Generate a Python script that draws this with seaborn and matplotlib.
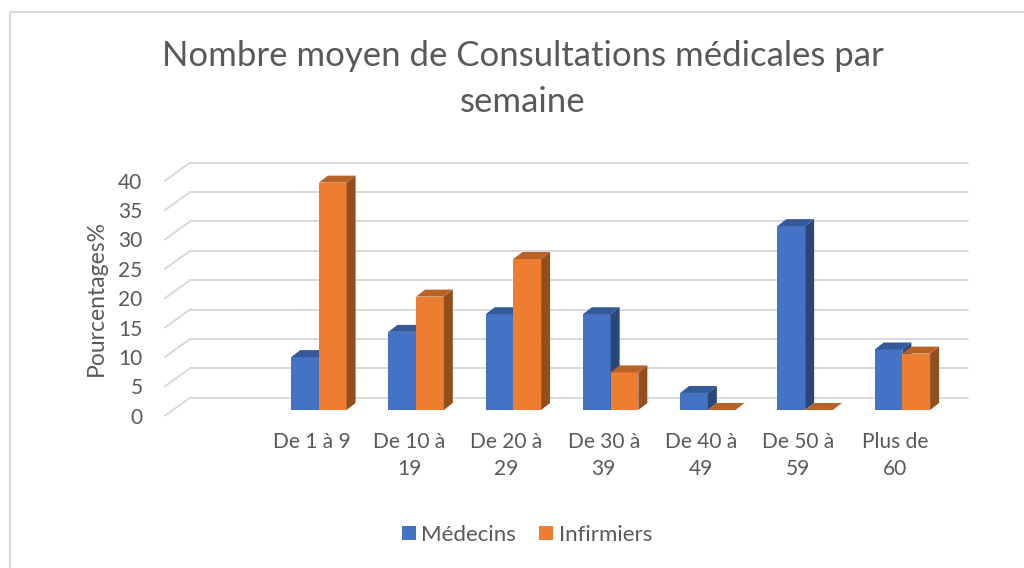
import pandas as pd
import seaborn as sns
import matplotlib.pyplot as plt
from matplotlib.patches import Polygon, Rectangle, Patch
from matplotlib.colors import to_rgb
from matplotlib.transforms import ScaledTranslation

# data (percentages)
categories = ["", "De 1 à 9", "De 10 à\n19", "De 20 à\n29", "De 30 à\n39",
              "De 40 à\n49", "De 50 à\n59", "Plus de\n60"]
medecins = [9.0, 13.3, 16.3, 16.3, 2.9, 31.3, 10.3]
infirmiers = [38.7, 19.3, 25.7, 6.4, 0.0, 0.0, 9.6]
series = ["Médecins", "Infirmiers"]
colors = ["#4472C4", "#ED7D31"]
yticks = [0, 5, 10, 15, 20, 25, 30, 35, 40]

df = pd.DataFrame({
    "tranche": categories[1:] * 2,
    "serie": [series[0]] * len(medecins) + [series[1]] * len(infirmiers),
    "pct": medecins + infirmiers,
})

sns.set_theme(style="white")
plt.rcParams["font.family"] = ["Lato", "DejaVu Sans"]
grey = "#595959"
gridc = "#D9D9D9"

W, H = 1024, 568
fig = plt.figure(figsize=(W / 100, H / 100), dpi=100)
ax = fig.add_axes([173 / W, (H - 410) / H, 778 / W, 235 / H])

sns.barplot(data=df, x="tranche", y="pct", hue="serie", order=categories,
            hue_order=series, palette=colors, saturation=1, width=0.57,
            linewidth=0, edgecolor="none", legend=False, ax=ax)
ax.set_xlim(-0.5, 7.5)
ax.set_ylim(0, 40)

# pixel -> data units
sx = 1 / 97.25
sy = 40 / 235


def shade(c, f):
    r, g, b = to_rgb(c)
    return (r * f, g * f, b * f)


# fake 3d: side and top faces on each bar
dx, dy = 9 * sx, 7 * sy
bars = sorted(ax.patches, key=lambda p: p.get_x())
for i, p in enumerate(bars):
    x0, w, h = p.get_x(), p.get_width(), p.get_height()
    base = p.get_facecolor()
    z = 3 + i * 0.01
    p.set_zorder(z)
    side = Polygon([(x0 + w, 0), (x0 + w + dx, dy), (x0 + w + dx, h + dy), (x0 + w, h)],
                   closed=True, fc=shade(base, 0.62), ec="none", zorder=z, clip_on=False)
    top = Polygon([(x0, h), (x0 + dx, h + dy), (x0 + w + dx, h + dy), (x0 + w, h)],
                  closed=True, fc=shade(base, 0.78), ec="none", zorder=z, clip_on=False)
    ax.add_patch(side)
    ax.add_patch(top)

# back wall gridlines + slanted side wall
for v in yticks:
    yb = v + 12.3 * sy
    yf = v - 5.7 * sy
    ax.plot([-0.5 + 17 * sx, 7.5 + 17 * sx], [yb, yb], color=gridc, lw=1.4,
            zorder=1, clip_on=False)
    ax.plot([-0.5 - 8 * sx, -0.5 + 17 * sx], [yf, yb], color=gridc, lw=1.4,
            zorder=1, clip_on=False)

for s in ax.spines.values():
    s.set_visible(False)
ax.grid(False)
ax.set_facecolor("none")
ax.set_yticks(yticks)
ax.tick_params(length=0, colors=grey)
ax.tick_params(axis="y", labelsize=15, pad=22)
ax.tick_params(axis="x", labelsize=15, pad=16)
for lab in ax.get_yticklabels():
    lab.set_transform(lab.get_transform() + ScaledTranslation(0, -0.057, fig.dpi_scale_trans))
for lab in ax.get_xticklabels():
    lab.set_transform(lab.get_transform() + ScaledTranslation(-0.07, 0, fig.dpi_scale_trans))
    lab.set_linespacing(1.45)
ax.set_xlabel("")
ax.set_ylabel("Pourcentages%", fontsize=16.5, color=grey)
ax.yaxis.set_label_coords(-0.085, 0.477)

fig.text(523 / W, 1 - 79 / H, "Nombre moyen de Consultations médicales par\nsemaine",
         ha="center", va="center", fontsize=25, color=grey, linespacing=1.52)

handles = [Patch(facecolor=c, edgecolor="none", label=s) for c, s in zip(colors, series)]
fig.legend(handles=handles, loc="center", bbox_to_anchor=(527 / W, 1 - 535 / H), ncol=2,
           frameon=False, fontsize=16, labelcolor=grey, handlelength=0.63,
           handleheight=0.63, handletextpad=0.25, columnspacing=1.05)

fig.patches.append(Rectangle((10 / W, -0.1), 1.2, 1.1 - 12 / H, transform=fig.transFigure,
                             fill=False, ec=gridc, lw=1.5))

fig.savefig("out.png", dpi=100)
